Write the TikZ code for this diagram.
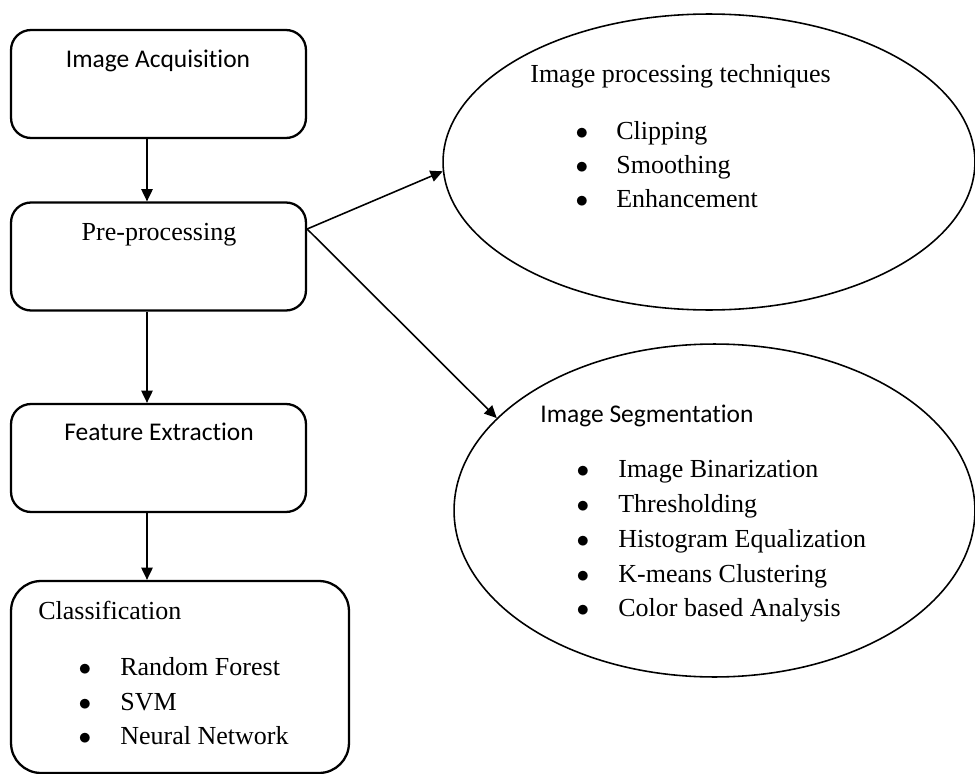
\documentclass[tikz,border=0pt]{standalone}
\usepackage{fontspec}
\setmainfont{Liberation Serif}
\newfontfamily\calfont[Ligatures=NoCommon]{Carlito}
\usetikzlibrary{shapes.geometric,arrows.meta,positioning}

\begin{document}
\begin{tikzpicture}[x=0.02cm,y=-0.02cm,>={Triangle[length=7pt,width=6.5pt]},line join=round,
    stage/.style={draw,rounded corners=0.4cm,line width=1.3pt,minimum width=5.9cm,minimum height=2.16cm,inner sep=0pt},
    blob/.style={draw,ellipse,line width=0.9pt,inner sep=0pt},
    txt/.style={font=\fontsize{14.8}{17}\selectfont,inner sep=0pt,text height=11pt,text depth=3pt},
    sans/.style={txt,font=\calfont\fontsize{14.5}{17}\selectfont},
    dot/.style={txt,font=\fontsize{14.5}{17}\selectfont},
    flow/.style={->,line width=0.9pt}]
      \useasboundingbox (0,0) rectangle (975,774);
      \clip (0,0) rectangle (975,774);
      % left column of stages
      \node[stage] (acq) at (158.5,84) {};
      \node[stage] (pre) at (158.5,256.5) {};
      \node[stage] (feat) at (158.5,458) {};
      \node[stage,rounded corners=0.6cm,minimum width=6.76cm,minimum height=3.84cm] (cls) at (180,677) {};
      \node[sans] (acqt) at (158,60) {Image Acquisition};
      \node[txt] (pret) at (159,233) {Pre-processing};
      \node[sans] (featt) at (159,433) {Feature Extraction};
      \node[txt,anchor=west] (clst) at (38,612) {Classification};
      \foreach \entry/\yy [count=\i] in {Random Forest/668,SVM/703,Neural Network/737} {
        \node[dot] (clsb\i) at (85,\yy) {$\bullet$};
        \node[txt,anchor=west] (clsi\i) at (120,\yy) {\entry};
      }
      % the two ellipses on the right
      \node[blob,minimum width=10.64cm,minimum height=5.92cm] (proc) at (709,162) {};
      \node[blob,minimum width=10.42cm,minimum height=6.66cm] (seg) at (714.5,510.5) {};
      \node[txt,anchor=west] (proct) at (530,75) {Image processing techniques};
      \foreach \entry/\yy [count=\i] in {Clipping/132,Smoothing/166,Enhancement/200} {
        \node[dot] (procb\i) at (582,\yy) {$\bullet$};
        \node[txt,anchor=west] (proci\i) at (616,\yy) {\entry};
      }
      \node[sans,anchor=west] (segt) at (540,415) {Image Segmentation};
      \foreach \entry/\yy [count=\i] in {Image Binarization/470,Thresholding/505,Histogram Equalization/540,K-means Clustering/575,Color based Analysis/609} {
        \node[dot] (segb\i) at (583,\yy) {$\bullet$};
        \node[txt,anchor=west] (segi\i) at (618,\yy) {\entry};
      }
      % connectors
      \draw[flow] ([xshift=-0.23cm]acq.south) -- ([xshift=-0.23cm]pre.north);
      \draw[flow] ([xshift=-0.23cm]pre.south) -- ([xshift=-0.23cm]feat.north);
      \draw[flow] ([xshift=-0.23cm]feat.south) -- ([xshift=-0.23cm]cls.north -| feat.south);
      \coordinate (fork) at ([yshift=0.55cm]pre.east);
      \draw[flow] (fork) -- (proc.182);
      \draw[flow] (fork) -- (seg.157.8);
\end{tikzpicture}
\end{document}
